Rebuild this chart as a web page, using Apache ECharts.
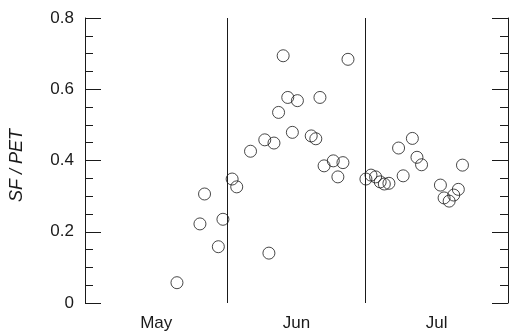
<!DOCTYPE html>
<html>
<head>
<meta charset="utf-8">
<script src="https://cdn.jsdelivr.net/npm/echarts@6/dist/echarts.min.js"></script>
<style>html,body{margin:0;padding:0;background:#fff}#c{width:509px;height:335px}</style>
</head>
<body>
<div id="c"></div>
<script>
// Days counted from 1 May (0 = May 1, 31 = Jun 1, 61 = Jul 1, 92 = Aug 1)
const days = [20, 25, 26, 29, 30, 32, 33, 36, 39.1, 40, 41.1, 42.1, 43.1, 44.1, 45.1, 46.2,
  49.2, 50.2, 51.1, 52, 54, 55, 56.1, 57.2, 61.1, 62.2, 63.2, 64.2, 65.1, 66.1,
  68.2, 69.2, 71.2, 72.2, 73.2, 77.3, 78.1, 79.2, 80.2, 81.2, 82.1];
const sfPet = [0.057, 0.222, 0.306, 0.158, 0.235, 0.348, 0.326, 0.426, 0.458, 0.140, 0.449, 0.535, 0.694, 0.577, 0.479, 0.568,
  0.469, 0.461, 0.577, 0.385, 0.399, 0.354, 0.394, 0.684, 0.348, 0.359, 0.354, 0.340, 0.334, 0.336,
  0.435, 0.357, 0.462, 0.409, 0.388, 0.331, 0.295, 0.286, 0.303, 0.319, 0.387];
const monthNames = ['May', 'Jun', 'Jul'];
const monthMid = [15.5, 46, 76.5];
const monthStarts = [31, 61];
const yTicks = [0, 0.2, 0.4, 0.6, 0.8];

const points = days.map((d, i) => [d, sfPet[i]]);
const font = '"Liberation Sans", Arial, sans-serif';
const ink = '#1a1a1a';

const chart = echarts.init(document.getElementById('c'), null, { renderer: 'canvas' });
const yCommon = {
  type: 'value', min: 0, max: 0.8, interval: 0.2,
  splitLine: { show: false },
  axisLine: { show: true, lineStyle: { color: ink, width: 1 } },
  axisTick: { show: true, inside: true, length: 16, lineStyle: { color: ink, width: 1 } },
  minorTick: { show: true, splitNumber: 4, length: 8, lineStyle: { color: ink, width: 1 } }
};
chart.setOption({
  animation: false,
  backgroundColor: '#fff',
  grid: { left: 85, right: 1, top: 18, bottom: 32 },
  xAxis: {
    type: 'value', min: 0, max: 92,
    axisLine: { show: false },
    axisTick: { show: false },
    splitLine: { show: false },
    axisLabel: {
      customValues: monthMid,
      formatter: v => monthNames[monthMid.indexOf(v)] || '',
      color: ink, fontFamily: font, fontSize: 17, margin: 12
    }
  },
  yAxis: [
    Object.assign({}, yCommon, {
      position: 'left',
      name: 'SF / PET', nameLocation: 'middle', nameGap: 59,
      nameTextStyle: { fontFamily: font, fontSize: 18, fontStyle: 'italic', color: ink, padding: [0, 10, 0, 0] },
      axisLabel: {
        color: ink, fontFamily: font, fontSize: 17, margin: 11,
        formatter: v => (yTicks.indexOf(+v.toFixed(1)) >= 0 ? (v === 0 ? '0' : v.toFixed(1)) : '')
      }
    }),
    Object.assign({}, yCommon, {
      position: 'right',
      axisLabel: { show: false }
    })
  ],
  series: [{
    type: 'scatter',
    data: points,
    symbol: 'circle',
    symbolSize: 12,
    itemStyle: { color: 'rgba(255,255,255,0)', borderColor: ink, borderWidth: 1 },
    markLine: {
      silent: true,
      symbol: ['none', 'none'],
      label: { show: false },
      lineStyle: { color: ink, width: 1, type: 'solid' },
      data: monthStarts.map(d => ({ xAxis: d }))
    }
  }]
});
</script>
</body>
</html>
